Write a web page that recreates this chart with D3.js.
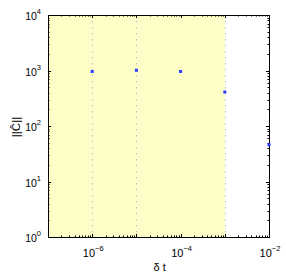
<!DOCTYPE html>
<html>
<head>
<meta charset="utf-8">
<script src="https://cdn.jsdelivr.net/npm/d3@7"></script>
<style>
  body { margin: 0; background: #fff; }
  text { font-family: "Liberation Sans", Arial, sans-serif; fill: #000; }
</style>
</head>
<body>
<div id="chart"></div>
<script>
// data
var dtValues = [1e-6, 1e-5, 1e-4, 1e-3, 1e-2];
var normValues = [960, 1010, 960, 410, 46];
var xTickExps = [-6, -4, -2];
var yTickExps = [0, 1, 2, 3, 4];
var gridX = [1e-6, 1e-5, 1e-3];
var shadeRange = [1e-7, 1e-3];

var width = 286, height = 277;
var margin = {left: 48, top: 15, right: 17, bottom: 40};
var iw = width - margin.left - margin.right;
var ih = height - margin.top - margin.bottom;

var svg = d3.select('#chart').append('svg')
  .attr('width', width).attr('height', height);
var g = svg.append('g').attr('transform', 'translate(' + margin.left + ',' + margin.top + ')');

var x = d3.scaleLog().domain([1e-7, 1e-2]).range([0, iw]);
var y = d3.scaleLog().domain([1, 1e4]).range([ih, 0]);

// shaded area
g.append('rect')
  .attr('x', x(shadeRange[0])).attr('y', 0)
  .attr('width', x(shadeRange[1]) - x(shadeRange[0]))
  .attr('height', ih)
  .attr('fill', '#fdfdc8');

// dotted grid
g.selectAll('.grid').data(gridX).enter().append('line')
  .attr('x1', function(d){ return Math.round(x(d)) + 0.5; })
  .attr('x2', function(d){ return Math.round(x(d)) + 0.5; })
  .attr('y1', 0).attr('y2', ih)
  .attr('stroke', '#c0c0c0').attr('stroke-width', 1)
  .attr('stroke-dasharray', '1.5,4.5');

// ticks (inward, both sides)
function minorTicks(lo, hi) {
  var out = [];
  for (var e = lo; e < hi; e++) for (var k = 2; k < 10; k++) out.push(k * Math.pow(10, e));
  return out;
}
var xMajor = d3.range(-7, -1).map(function(e){ return Math.pow(10, e); });
var yMajor = yTickExps.map(function(e){ return Math.pow(10, e); });
var xMinor = minorTicks(-7, -2);
var yMinor = minorTicks(0, 4);

var ticks = g.append('g').attr('stroke', '#000').attr('stroke-width', 1);
function vticks(vals, len) {
  vals.forEach(function(v){
    var px = Math.round(x(v)) + 0.5;
    ticks.append('line').attr('x1', px).attr('x2', px).attr('y1', ih).attr('y2', ih - len);
    ticks.append('line').attr('x1', px).attr('x2', px).attr('y1', 0).attr('y2', len);
  });
}
function hticks(vals, len) {
  vals.forEach(function(v){
    var py = Math.round(y(v)) + 0.5;
    ticks.append('line').attr('x1', 0).attr('x2', len).attr('y1', py).attr('y2', py);
    ticks.append('line').attr('x1', iw).attr('x2', iw - len).attr('y1', py).attr('y2', py);
  });
}
vticks(xMajor, 3);
vticks(xMinor, 1.5);
hticks(yMajor, 3);
hticks(yMinor, 1.5);

// frame
g.append('rect').attr('x', 0.5).attr('y', 0.5).attr('width', iw).attr('height', ih)
  .attr('fill', 'none').attr('stroke', '#000').attr('stroke-width', 1);

// points
g.selectAll('.pt').data(dtValues).enter().append('rect')
  .attr('x', function(d){ return x(d) - 1.5; })
  .attr('y', function(d, i){ return y(normValues[i]) - 1.5; })
  .attr('width', 3).attr('height', 3)
  .attr('fill', '#2a3cff');

// tick labels
function pow10(sel, exp) {
  sel.append('tspan').text('10');
  sel.append('tspan').attr('dy', -6).attr('font-size', 7.5).text(exp < 0 ? '\u2212' + (-exp) : exp);
}
xTickExps.forEach(function(e){
  var t = g.append('text').attr('x', x(Math.pow(10, e)) + 1).attr('y', ih + 20)
    .attr('text-anchor', 'middle').attr('font-size', 11);
  pow10(t, e);
});
yTickExps.forEach(function(e){
  var t = g.append('text').attr('x', -7).attr('y', y(Math.pow(10, e)) + 5)
    .attr('text-anchor', 'end').attr('font-size', 10.5);
  pow10(t, e);
});

// axis labels
g.append('text').attr('x', x(1e-4) - 27).attr('y', ih + 34)
  .attr('font-size', 11).text('\u03b4 t');
g.append('text')
  .attr('transform', 'translate(-28,' + (ih / 2 + 1) + ') rotate(-90)')
  .attr('text-anchor', 'middle').attr('font-size', 11.5).text('||\u0108||');
</script>
</body>
</html>
